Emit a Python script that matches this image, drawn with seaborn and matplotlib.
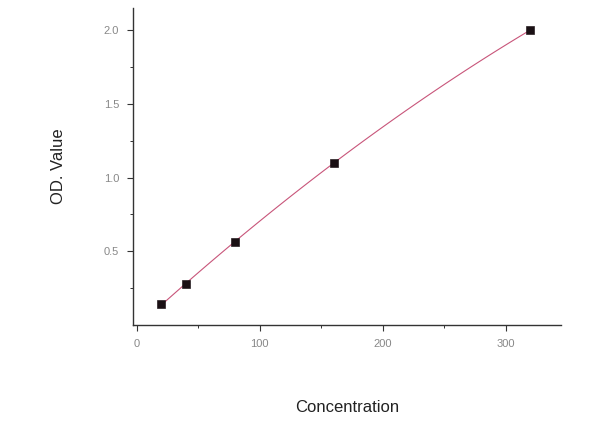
import matplotlib
matplotlib.use("Agg")
import matplotlib.pyplot as plt
import seaborn as sns
import numpy as np
from matplotlib.ticker import MultipleLocator, FixedLocator

# standard curve data
concentration = [20, 40, 80, 160, 320]
od_value = [0.14, 0.28, 0.565, 1.10, 2.00]

sns.set_style("ticks")
plt.rcParams["font.family"] = ["Liberation Sans", "DejaVu Sans"]

fig = plt.figure(figsize=(6, 4.44), dpi=100)
ax = fig.add_axes([0.222, 0.268, 0.713, 0.714])

# fitted curve (2nd order polynomial through the standards)
sns.regplot(x=concentration, y=od_value, order=2, ci=None, scatter=False,
            line_kws={"color": "#c8557a", "lw": 0.8}, ax=ax)
sns.scatterplot(x=concentration, y=od_value, marker="s", s=30, color="#1a1014",
                edgecolor="#1a1014", zorder=3, ax=ax)

ax.set_xlim(-3, 345)
ax.set_ylim(0.0, 2.15)
ax.xaxis.set_major_locator(MultipleLocator(100))
ax.xaxis.set_minor_locator(MultipleLocator(50))
ax.yaxis.set_major_locator(FixedLocator([0.5, 1.0, 1.5, 2.0]))
ax.yaxis.set_minor_locator(FixedLocator([0.25, 0.75, 1.25, 1.75]))

ax.tick_params(which="major", length=4, width=0.8, color="#333333",
               labelsize=8, labelcolor="#888888", pad=6)
ax.tick_params(which="minor", length=2, width=0.7, color="#333333")
for s in ["left", "bottom"]:
    ax.spines[s].set_linewidth(1.0)
    ax.spines[s].set_color("#333333")
sns.despine(ax=ax)

ax.set_xlabel("Concentration", fontsize=12, color="#222222", labelpad=37)
ax.set_ylabel("OD. Value", fontsize=12, color="#222222", labelpad=27)

plt.savefig("out.png", dpi=100)
plt.close()
